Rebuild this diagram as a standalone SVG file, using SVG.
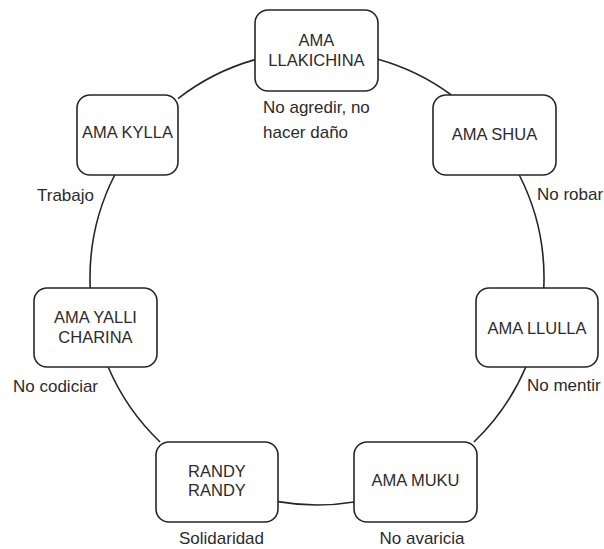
<svg xmlns="http://www.w3.org/2000/svg" width="604" height="549" viewBox="0 0 604 549">
<style>
.box{fill:#fff;stroke:#262626;stroke-width:1.6}
.nt{font-family:"Liberation Sans",Arial,sans-serif;font-size:16.5px;fill:#2b2b2b;text-anchor:middle}
.lb{font-family:"Liberation Sans",Arial,sans-serif;font-size:17px;fill:#2b2b2b}
.arc{fill:none;stroke:#262626;stroke-width:1.6}
</style>
<rect width="604" height="549" fill="#fff"/>
<g id="connectors">
<path class="arc" d="M378,59.35 A227,227 0 0 1 451.31,95"/>
<path class="arc" d="M519.29,175 A227,227 0 0 1 543.78,288"/>
<path class="arc" d="M525.83,367 A227,227 0 0 1 473.95,442"/>
<path class="arc" d="M354,501.96 A227,227 0 0 1 278,501.63"/>
<path class="arc" d="M160.05,442 A227,227 0 0 1 108.17,367"/>
<path class="arc" d="M90.22,288 A227,227 0 0 1 114.71,175"/>
<path class="arc" d="M178,98.53 A227,227 0 0 1 255,59.63"/>
</g>
<g id="n-llakichina">
<rect class="box" x="255" y="10" width="123" height="81" rx="13"/>
<text class="nt" x="316.5" y="46">AMA</text>
<text class="nt" x="316.5" y="66">LLAKICHINA</text>
</g>
<g id="n-shua">
<rect class="box" x="433" y="95" width="123" height="80" rx="13"/>
<text class="nt" x="494.5" y="140">AMA SHUA</text>
</g>
<g id="n-llulla">
<rect class="box" x="476" y="288" width="122" height="79" rx="13"/>
<text class="nt" x="537" y="334">AMA LLULLA</text>
</g>
<g id="n-muku">
<rect class="box" x="354" y="442" width="123" height="80" rx="13"/>
<text class="nt" x="415.5" y="486">AMA MUKU</text>
</g>
<g id="n-randy">
<rect class="box" x="156" y="442" width="122" height="80" rx="13"/>
<text class="nt" x="217" y="477">RANDY</text>
<text class="nt" x="217" y="496">RANDY</text>
</g>
<g id="n-yalli">
<rect class="box" x="34" y="288" width="123" height="79" rx="13"/>
<text class="nt" x="95.5" y="323">AMA YALLI</text>
<text class="nt" x="95.5" y="343">CHARINA</text>
</g>
<g id="n-kylla">
<rect class="box" x="77" y="95" width="101" height="80" rx="13"/>
<text class="nt" x="127.5" y="138">AMA KYLLA</text>
</g>
<g id="labels">
<text class="lb" x="263" y="113">No agredir, no</text>
<text class="lb" x="263" y="138">hacer daño</text>
<text class="lb" x="537" y="200">No robar</text>
<text class="lb" x="527" y="391">No mentir</text>
<text class="lb" x="422" y="544" text-anchor="middle">No avaricia</text>
<text class="lb" x="221.5" y="544" text-anchor="middle">Solidaridad</text>
<text class="lb" x="13" y="392">No codiciar</text>
<text class="lb" x="37" y="201">Trabajo</text>
</g>
</svg>
